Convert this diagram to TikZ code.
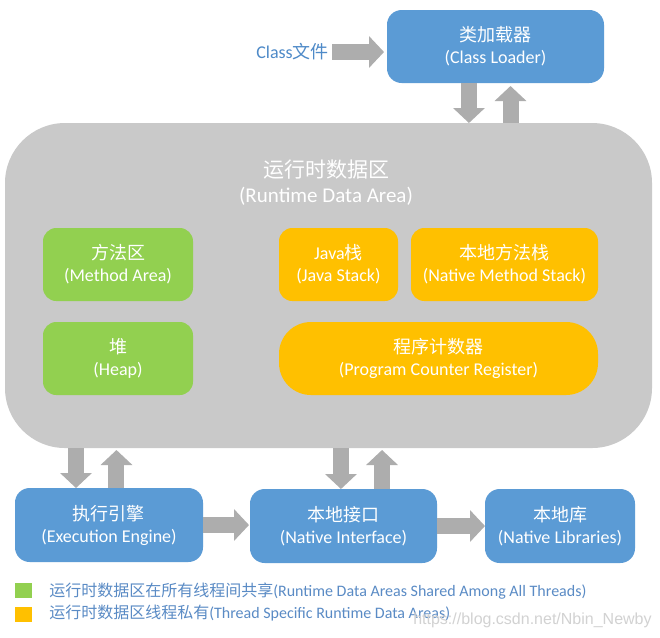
\documentclass[tikz,border=0pt]{standalone}
\usepackage{fontspec}
\setmainfont{Carlito}
\newfontfamily\cjk{Noto Sans CJK SC}
\newfontfamily\wmfont{Liberation Sans}
\usetikzlibrary{arrows.meta}
\definecolor{boxblue}{HTML}{5B9BD5}
\definecolor{boxgreen}{HTML}{92D050}
\definecolor{boxorange}{HTML}{FFC000}
\definecolor{areagray}{HTML}{C9C9C9}
\definecolor{arrowgray}{HTML}{ADADAD}
\definecolor{classblue}{HTML}{4E8AC8}
\definecolor{legblue}{HTML}{5A8BC5}
\definecolor{wmgray}{HTML}{D2D2D2}
\begin{document}
\begin{tikzpicture}[x=0.75pt,y=-0.75pt,
  box/.style={rounded corners=11pt, inner sep=0pt, outer sep=0pt, text=white, align=center, font=\fontsize{13.5}{16.5}\selectfont},
  bluebox/.style={box, fill=boxblue, minimum height=55.5pt},
  greenbox/.style={box, fill=boxgreen, minimum height=54.75pt, rounded corners=10pt},
  orangebox/.style={box, fill=boxorange, minimum height=54.75pt, rounded corners=10pt},
  blk/.style={draw=arrowgray, line width=12pt, -{Triangle[width=23.25pt,length=11.25pt]}},
  legtext/.style={anchor=west, text=legblue, font=\fontsize{12}{14}\selectfont, inner sep=0pt},
  legbox/.style={minimum width=12.75pt, minimum height=11.25pt, inner sep=0pt},
]
\path[fill=white] (0,0) rectangle (660,637);
\useasboundingbox (0,0) rectangle (660,637);

% top
\node[bluebox, minimum width=162.75pt, minimum height=54.75pt] (cl) at (495.5,46.5) {{\cjk 类加载器}\\(Class Loader)};
\node[anchor=east, text=classblue, font=\fontsize{13.5}{16}\selectfont, inner sep=0pt] (cf) at (329,52) {Class{\cjk 文件}};

% runtime data area
\node[fill=areagray, rounded corners=45pt, minimum width=485.25pt, minimum height=243.75pt, inner sep=0pt, outer sep=0pt] (rda) at (328.5,285.5) {};
\node[text=white, align=center, font=\fontsize{15.75}{18.75}\selectfont] (rdat) at (326,183) {{\cjk 运行时数据区}\\(Runtime Data Area)};
\node[greenbox, minimum width=112.5pt] (ma) at (118,264.5) {{\cjk 方法区}\\(Method Area)};
\node[greenbox, minimum width=112.5pt] (hp) at (118,358.5) {{\cjk 堆}\\(Heap)};
\node[orangebox, minimum width=89.25pt] (js) at (338.5,264.5) {Java{\cjk 栈}\\(Java Stack)};
\node[orangebox, minimum width=140.25pt] (nms) at (504.5,264.5) {{\cjk 本地方法栈}\\(Native Method Stack)};
\node[orangebox, minimum width=239.25pt, rounded corners=24pt] (pc) at (438.5,358.5) {{\cjk 程序计数器}\\(Program Counter Register)};

% bottom
\node[bluebox, minimum width=141pt] (ee) at (109,525) {{\cjk 执行引擎}\\(Execution Engine)};
\node[bluebox, minimum width=140.25pt] (ni) at (343.5,526) {{\cjk 本地接口}\\(Native Interface)};
\node[bluebox, minimum width=112.5pt] (nl) at (560,526) {{\cjk 本地库}\\(Native Libraries)};

% arrows
\coordinate (cfa) at (cl.west |- cf.east);
\draw[blk] ([xshift=2.5pt]cf.east) -- ([xshift=-2.25pt]cfa);

\coordinate (a1) at ([xshift=-19.9pt]cl.south);
\coordinate (a1t) at (a1 |- rda.north);
\draw[blk] (a1) -- (a1t);
\coordinate (a2) at ([xshift=11.25pt]cl.south);
\coordinate (a2b) at (a2 |- rda.north);
\draw[blk] (a2b) -- ([yshift=-2.25pt]a2);

\coordinate (b1) at ([xshift=-24.75pt]ee.north);
\coordinate (b1t) at (b1 |- rda.south);
\draw[blk] (b1t) -- (b1);
\coordinate (b2) at ([xshift=5.6pt]ee.north);
\coordinate (b2t) at (b2 |- rda.south);
\draw[blk] (b2) -- ([yshift=-1.5pt]b2t);

\coordinate (c1) at ([xshift=-1.9pt]ni.north);
\coordinate (c1t) at (c1 |- rda.south);
\draw[blk] (c1t) -- (c1);
\coordinate (c2) at ([xshift=28.9pt]ni.north);
\coordinate (c2t) at (c2 |- rda.south);
\draw[blk] (c2) -- ([yshift=-1.5pt]c2t);

\coordinate (nie) at (ni.west |- ee.east);
\draw[blk] (ee.east) -- ([xshift=-0.75pt]nie);
\draw[blk] (ni.east) -- (nl.west);

% legend
\node[legbox, fill=boxgreen] (lg1) at (23.5,590.5) {};
\node[legbox, fill=boxorange] (lg2) at (23.5,614.5) {};
\node[legtext] (lt1) at (49,591) {{\cjk 运行时数据区在所有线程间共享}(Runtime Data Areas Shared Among All Threads)};
\node[legtext] (lt2) at (49,613) {{\cjk 运行时数据区线程私有}(Thread Specific Runtime Data Areas)};

% watermark
\node[anchor=west, text=wmgray, font=\wmfont\fontsize{12}{14}\selectfont, inner sep=0pt] (wm) at (413,620) {https://blog.csdn.net/Nbin\_Newby};
\end{tikzpicture}
\end{document}
